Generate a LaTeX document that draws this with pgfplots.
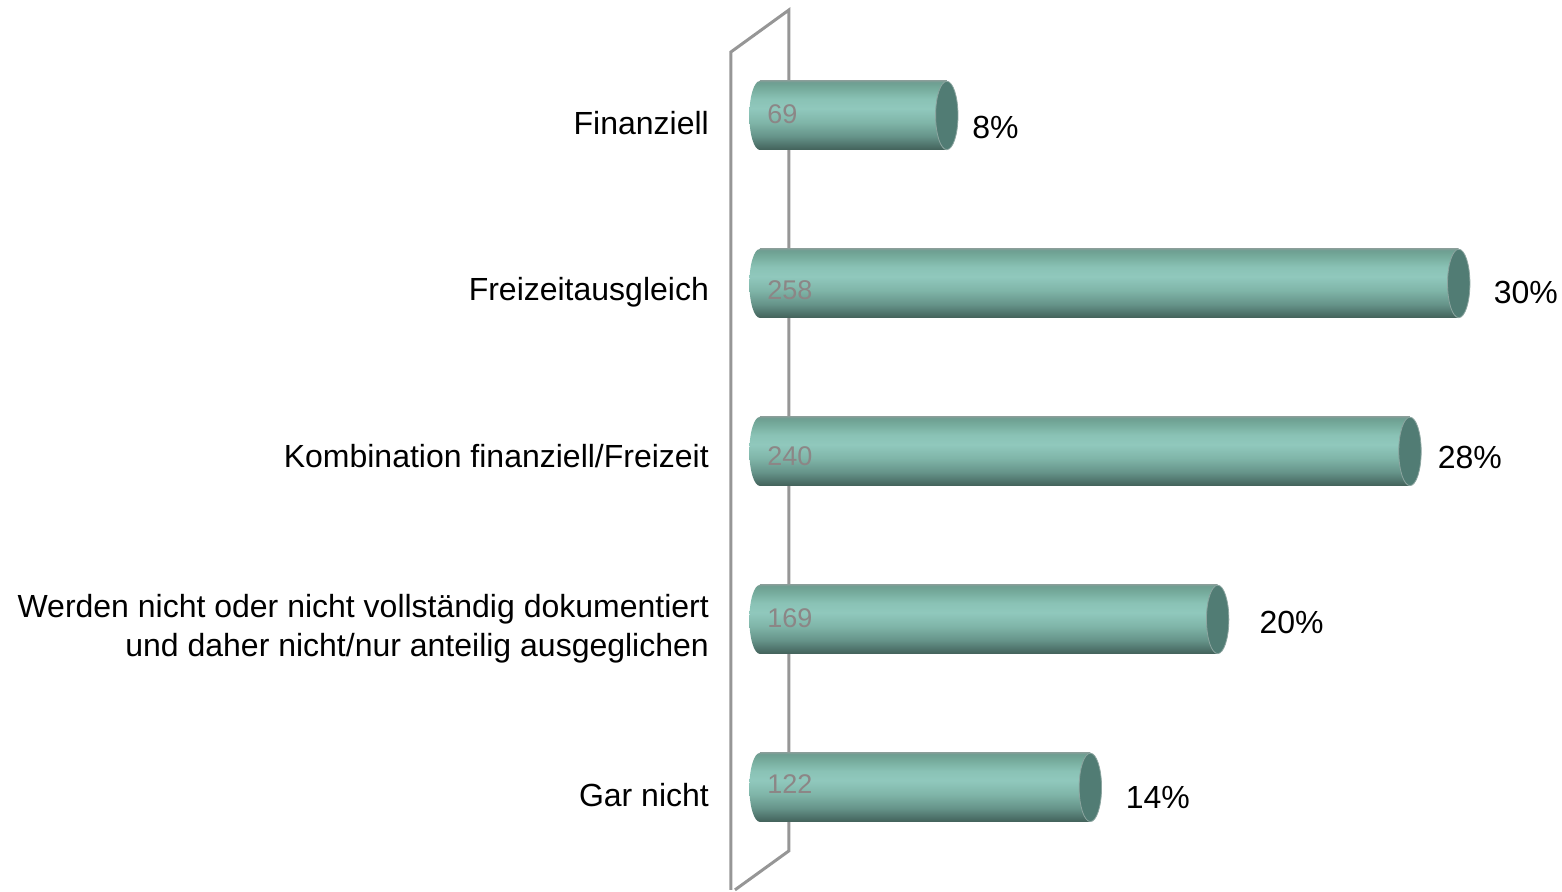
\documentclass[border=0pt]{standalone}
\usepackage{fontspec}
\setmainfont{Liberation Sans}
\usepackage{pgfplots}
\pgfplotsset{compat=1.18}

\definecolor{wallgray}{RGB}{150,150,150}
\definecolor{capteal}{RGB}{81,124,116}
\definecolor{caprim}{RGB}{140,165,160}
\definecolor{valgray}{RGB}{140,134,134}

% 100bp tall, tikz maps the bar's box onto 25bp..75bp
\pgfdeclareverticalshading{barshade}{100bp}{
  rgb(0bp)=(0.26,0.38,0.35);
  rgb(25bp)=(0.26,0.38,0.35);
  rgb(28bp)=(0.30,0.44,0.41);
  rgb(35bp)=(0.40,0.58,0.54);
  rgb(45bp)=(0.50,0.71,0.66);
  rgb(55bp)=(0.565,0.785,0.74);
  rgb(62bp)=(0.54,0.76,0.71);
  rgb(70bp)=(0.46,0.67,0.61);
  rgb(74bp)=(0.43,0.62,0.57);
  rgb(75bp)=(0.50,0.62,0.59);
  rgb(100bp)=(0.50,0.62,0.59)}
% same stops, 34.5pt tall, for the left end
\pgfdeclareverticalshading{baseshade}{12pt}{
  rgb(0pt)=(0.26,0.38,0.35);
  rgb(2.07pt)=(0.30,0.44,0.41);
  rgb(6.9pt)=(0.40,0.58,0.54);
  rgb(13.8pt)=(0.50,0.71,0.66);
  rgb(20.7pt)=(0.565,0.785,0.74);
  rgb(25.53pt)=(0.54,0.76,0.71);
  rgb(31.05pt)=(0.46,0.67,0.61);
  rgb(33.81pt)=(0.43,0.62,0.57);
  rgb(34.5pt)=(0.50,0.62,0.59)}

% left end of the cylinder
\pgfdeclareplotmark{cylbase}{%
  \begin{pgfscope}%
  \pgfpathellipse{\pgfpointorigin}{\pgfqpoint{5.25pt}{0pt}}{\pgfqpoint{0pt}{17.25pt}}%
  \pgfusepath{clip}%
  \pgftext[at=\pgfpointorigin]{\pgfuseshading{baseshade}}%
  \end{pgfscope}}
% right end
\pgfdeclareplotmark{cylcap}{%
  \pgfpathellipse{\pgfpointorigin}{\pgfqpoint{5.6pt}{0pt}}{\pgfqpoint{0pt}{17.1pt}}%
  \pgfusepathqfillstroke}

\pgfplotsset{cyl/.style={xbar, bar width=34.5pt, bar shift=0pt, draw=none, shade, shading=barshade}}

% tick label line, lowered a little without moving the anchor
\newcommand{\lab}[2]{\vphantom{Fg/}\raisebox{-#1}[0pt][0pt]{#2}}

\begin{document}
\begin{tikzpicture}
\begin{axis}[
    scale only axis,
    width=415.5pt,
    height=445pt,
    xmin=-10.705, xmax=296.05,
    ymin=-0.6875, ymax=4.6101,
    y dir=reverse,
    clip=false,
    axis line style={draw=none},
    xtick=\empty,
    ytick={0,1,2,3,4},
    yticklabels={\lab{1.5pt}{Finanziell},\lab{0.5pt}{Freizeitausgleich},\lab{0pt}{Kombination finanziell/Freizeit},
      {\lab{1pt}{Werden nicht oder nicht vollständig dokumentiert}\\\lab{1pt}{und daher nicht/nur anteilig ausgeglichen}},\lab{1.5pt}{Gar nicht}},
    major tick length=0pt,
    yticklabel style={align=right, font=\fontsize{16}{19.5}\selectfont, yshift=-3.75pt, xshift=-7.5pt},
]
% bounding box of the whole picture
\path (axis cs:-280.55,-0.6875) rectangle (axis cs:296.05,4.6101);

% side wall
\addplot[wallgray, line width=1.5pt, mark=none, line join=miter] coordinates
  {(-10.7,4.6101) (-10.7,-0.378) (10.7,-0.628) (10.7,4.378) (-9.2,4.6101)};

% left ends
\addplot[only marks, mark=cylbase] coordinates {(0,0) (0,1) (0,2) (0,3) (0,4)};

% bars, one plot each so that each gets its own gradient
\addplot[cyl] coordinates {(69,0)};
\addplot[cyl] coordinates {(258,1)};
\addplot[cyl] coordinates {(240,2)};
\addplot[cyl] coordinates {(169,3)};
\addplot[cyl] coordinates {(122,4)};

% right ends
\addplot[only marks, mark=cylcap, mark options={draw=caprim, fill=capteal, line width=0.4pt}] coordinates
  {(69,0) (258,1) (240,2) (169,3) (122,4)};

% counts on the bars
\addplot[draw=none, mark=none, point meta=explicit symbolic, nodes near coords,
  every node near coord/.style={anchor=west, inner sep=0pt, text=valgray, font=\fontsize{13.5}{16}\selectfont}]
  coordinates {(2.58,-0.009)[69] (2.58,1.039)[258] (2.58,2.027)[240] (2.58,2.991)[169] (2.58,3.979)[122]};

% shares beside the bars
\addplot[draw=none, mark=none, point meta=explicit symbolic, nodes near coords,
  every node near coord/.style={anchor=center, inner sep=0pt, text=black, font=\fontsize{16}{19}\selectfont}]
  coordinates {(87,0.0685)[8\%] (282.8,1.056)[30\%] (262.1,2.038)[28\%] (196.3,3.021)[20\%] (146.9,4.062)[14\%]};
\end{axis}
\end{tikzpicture}
\end{document}
